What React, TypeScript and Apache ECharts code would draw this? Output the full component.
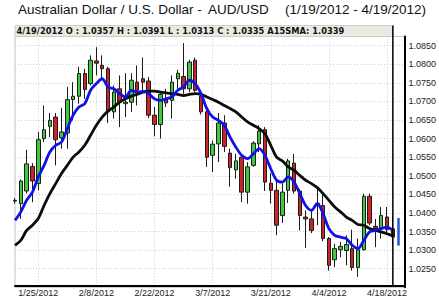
import React, { useEffect, useRef } from 'react';
import * as echarts from 'echarts';

const dates = [
  '1/19/2012', '1/20/2012', '1/23/2012', '1/24/2012', '1/25/2012', '1/26/2012', '1/27/2012', '1/30/2012', '1/31/2012',
  '2/1/2012', '2/2/2012', '2/3/2012', '2/6/2012', '2/7/2012', '2/8/2012', '2/9/2012', '2/10/2012', '2/13/2012',
  '2/14/2012', '2/15/2012', '2/16/2012', '2/17/2012', '2/20/2012', '2/21/2012', '2/22/2012', '2/23/2012', '2/24/2012',
  '2/27/2012', '2/28/2012', '2/29/2012', '3/1/2012', '3/2/2012', '3/5/2012', '3/6/2012', '3/7/2012', '3/8/2012',
  '3/9/2012', '3/12/2012', '3/13/2012', '3/14/2012', '3/15/2012', '3/16/2012', '3/19/2012', '3/20/2012', '3/21/2012',
  '3/22/2012', '3/23/2012', '3/26/2012', '3/27/2012', '3/28/2012', '3/29/2012', '3/30/2012', '4/2/2012', '4/3/2012',
  '4/4/2012', '4/5/2012', '4/6/2012', '4/9/2012', '4/10/2012', '4/11/2012', '4/12/2012', '4/13/2012', '4/16/2012',
  '4/17/2012', '4/18/2012', '4/19/2012', '4/20/2012', '4/23/2012',
];

const opens = [
  1.0432, 1.0425, 1.0459, 1.0525, 1.0479, 1.0600, 1.0633, 1.0658, 1.0602, 1.0615, 1.0705, 1.0714,
  1.0775, 1.0748, 1.0809, 1.0797, 1.0788, 1.0672, 1.0734, 1.0694, 1.0698, 1.0752, 1.0761, 1.0755,
  1.0663, 1.0638, 1.0705, 1.0703, 1.0761, 1.0767, 1.0734, 1.0811, 1.0714, 1.0672, 1.0555, 1.0586,
  1.0642, 1.0561, 1.0516, 1.0550, 1.0456, 1.0528, 1.0586, 1.0624, 1.0480, 1.0461, 1.0393, 1.0461,
  1.0534, 1.0459, 1.0389, 1.0384, 1.0420, 1.0420, 1.0331, 1.0274, 1.0301, 1.0299, 1.0304, 1.0253,
  1.0301, 1.0445, 1.0364, 1.0360, 1.0389, 1.0357,
];
const highs = [
  1.0440, 1.0490, 1.0570, 1.0534, 1.0618, 1.0689, 1.0669, 1.0669, 1.0683, 1.0739, 1.0752, 1.0793,
  1.0788, 1.0824, 1.0846, 1.0824, 1.0793, 1.0743, 1.0770, 1.0776, 1.0776, 1.0797, 1.0818, 1.0766,
  1.0685, 1.0725, 1.0734, 1.0770, 1.0785, 1.0857, 1.0812, 1.0818, 1.0721, 1.0676, 1.0595, 1.0669,
  1.0663, 1.0573, 1.0559, 1.0555, 1.0537, 1.0593, 1.0636, 1.0631, 1.0507, 1.0492, 1.0479, 1.0546,
  1.0559, 1.0464, 1.0407, 1.0411, 1.0471, 1.0452, 1.0335, 1.0317, 1.0322, 1.0340, 1.0355, 1.0331,
  1.0452, 1.0452, 1.0384, 1.0416, 1.0416, 1.0391,
];
const lows = [
  1.0425, 1.0384, 1.0452, 1.0429, 1.0461, 1.0591, 1.0604, 1.0528, 1.0573, 1.0573, 1.0649, 1.0694,
  1.0707, 1.0743, 1.0770, 1.0757, 1.0642, 1.0654, 1.0631, 1.0658, 1.0672, 1.0689, 1.0725, 1.0655,
  1.0606, 1.0600, 1.0685, 1.0654, 1.0734, 1.0721, 1.0725, 1.0725, 1.0665, 1.0524, 1.0510, 1.0537,
  1.0564, 1.0471, 1.0492, 1.0429, 1.0425, 1.0524, 1.0564, 1.0459, 1.0425, 1.0340, 1.0373, 1.0427,
  1.0452, 1.0353, 1.0306, 1.0346, 1.0367, 1.0324, 1.0245, 1.0254, 1.0281, 1.0259, 1.0245, 1.0228,
  1.0299, 1.0367, 1.0308, 1.0331, 1.0346, 1.0313,
];
const closes = [
  1.0434, 1.0486, 1.0532, 1.0486, 1.0597, 1.0624, 1.0649, 1.0597, 1.0618, 1.0705, 1.0714, 1.0775,
  1.0732, 1.0811, 1.0803, 1.0788, 1.0672, 1.0725, 1.0698, 1.0698, 1.0757, 1.0730, 1.0752, 1.0663,
  1.0638, 1.0719, 1.0696, 1.0752, 1.0776, 1.0734, 1.0806, 1.0730, 1.0672, 1.0550, 1.0585, 1.0642,
  1.0579, 1.0522, 1.0540, 1.0456, 1.0524, 1.0588, 1.0620, 1.0483, 1.0461, 1.0367, 1.0456, 1.0540,
  1.0459, 1.0393, 1.0384, 1.0353, 1.0426, 1.0331, 1.0259, 1.0304, 1.0310, 1.0315, 1.0253, 1.0301,
  1.0445, 1.0373, 1.0358, 1.0393, 1.0355, 1.0335,
];

// fast moving average (blue)
const fastSMA = [
  1.0380, 1.0403, 1.0434, 1.0456, 1.0497, 1.0528, 1.0564, 1.0582, 1.0591, 1.0627, 1.0663, 1.0685,
  1.0694, 1.0730, 1.0748, 1.0761, 1.0739, 1.0734, 1.0721, 1.0712, 1.0730, 1.0725, 1.0727, 1.0721,
  1.0707, 1.0703, 1.0707, 1.0712, 1.0730, 1.0739, 1.0757, 1.0748, 1.0721, 1.0681, 1.0658, 1.0649,
  1.0636, 1.0604, 1.0577, 1.0555, 1.0546, 1.0559, 1.0573, 1.0555, 1.0519, 1.0488, 1.0483, 1.0497,
  1.0483, 1.0452, 1.0420, 1.0407, 1.0425, 1.0398, 1.0358, 1.0340, 1.0335, 1.0331, 1.0313, 1.0304,
  1.0326, 1.0349, 1.0353, 1.0358, 1.0362, 1.0353,
];
// A15SMA (black)
const sma15 = [
  1.0313, 1.0326, 1.0353, 1.0367, 1.0385, 1.0420, 1.0452, 1.0479, 1.0506, 1.0528, 1.0550, 1.0564,
  1.0582, 1.0609, 1.0636, 1.0658, 1.0674, 1.0685, 1.0698, 1.0707, 1.0714, 1.0719, 1.0725, 1.0728,
  1.0728, 1.0725, 1.0723, 1.0721, 1.0719, 1.0716, 1.0719, 1.0721, 1.0719, 1.0712, 1.0705, 1.0698,
  1.0689, 1.0681, 1.0672, 1.0658, 1.0645, 1.0636, 1.0627, 1.0613, 1.0582, 1.0550, 1.0540, 1.0524,
  1.0515, 1.0501, 1.0488, 1.0479, 1.0468, 1.0452, 1.0434, 1.0416, 1.0403, 1.0389, 1.0380, 1.0369,
  1.0367, 1.0358, 1.0353, 1.0349, 1.0344, 1.0339,
];

// last-day range marker (blue bar beside the last candle)
const rangeIndex = 66;
const rangeLow = 1.0313;
const rangeHigh = 1.0386;

const yTickMin = 1.025;
const yTickMax = 1.085;

export default function App() {
  const ref = useRef<HTMLDivElement>(null);

  useEffect(() => {
    const chart = echarts.init(ref.current!, null, { renderer: 'svg' });
    const candleData = opens.map((o, i) => [o, closes[i], lows[i], highs[i]]);
    const rangeData = dates.map((_, i) =>
      i === rangeIndex ? [rangeLow, rangeHigh, rangeLow, rangeHigh] : '-'
    );
    const showIdx = (i: number) => i >= 4 && i <= 64 && (i - 4) % 10 === 0;
    const last = opens.length - 1;

    chart.setOption({
      animation: false,
      backgroundColor: '#ffffff',
      grid: {
        left: 15, right: 34, top: 36.4, bottom: 12.7,
        show: true, borderColor: '#c4c4c4', borderWidth: 1, backgroundColor: '#ffffff',
      },
      xAxis: {
        type: 'category',
        data: dates,
        boundaryGap: false,
        offset: -2,
        axisLine: { lineStyle: { color: '#000', width: 2 } },
        axisTick: { show: false },
        axisLabel: {
          interval: (i: number) => showIdx(i),
          fontSize: 9, color: '#222', margin: 3, fontFamily: 'Liberation Sans',
        },
        splitLine: {
          show: true,
          interval: (i: number) => showIdx(i),
          lineStyle: { color: '#cdcdcd', width: 1, type: [1, 2] },
        },
      },
      yAxis: {
        type: 'value',
        position: 'right',
        min: 1.02,
        max: 1.0875,
        interval: 0.005,
        axisLine: { show: true, lineStyle: { color: '#000', width: 2 } },
        axisTick: { show: false },
        axisLabel: {
          formatter: (v: number) => (v > yTickMin - 1e-6 && v < yTickMax + 1e-6 ? v.toFixed(4) : ''),
          fontSize: 9, color: '#222', margin: 4, fontFamily: 'Liberation Sans',
        },
        splitLine: {
          show: true,
          showMinLine: false,
          showMaxLine: false,
          lineStyle: { color: '#cdcdcd', width: 1, type: [1, 2] },
        },
      },
      series: [
        {
          type: 'candlestick',
          data: candleData,
          barWidth: 4,
          itemStyle: {
            color: '#3bcb3b', color0: '#cc2424',
            borderColor: '#1c1c1c', borderColor0: '#1c1c1c', borderWidth: 1,
          },
        },
        {
          type: 'candlestick',
          data: rangeData,
          barWidth: 3,
          itemStyle: {
            color: '#2b4fd6', color0: '#2b4fd6',
            borderColor: '#2b4fd6', borderColor0: '#2b4fd6', borderWidth: 0.5,
          },
        },
        {
          type: 'line',
          data: sma15,
          showSymbol: false,
          smooth: 0.3,
          lineStyle: { color: '#0c0c0c', width: 2.8 },
        },
        {
          type: 'line',
          data: fastSMA,
          showSymbol: false,
          smooth: 0.3,
          lineStyle: { color: '#1010e8', width: 2.8 },
        },
      ],
    });

    const xLast = chart.convertToPixel({ xAxisIndex: 0 }, dates[last]) as number;
    const info =
      `${dates[last]} O : ${opens[last].toFixed(4)} H : ${highs[last].toFixed(4)} ` +
      `L : ${lows[last].toFixed(4)} C : ${closes[last].toFixed(4)} A15SMA: ${sma15[last].toFixed(4)}`;

    chart.setOption({
      graphic: [
        {
          type: 'text', x: 18, y: 9,
          style: { text: 'Australian Dollar / U.S. Dollar -', font: '13.5px "Liberation Sans"', fill: '#111', verticalAlign: 'middle' },
        },
        {
          type: 'text', x: 208, y: 9,
          style: { text: 'AUD/USD', font: '13.5px "Liberation Sans"', fill: '#111', verticalAlign: 'middle' },
        },
        {
          type: 'text', x: 285, y: 9,
          style: { text: '(1/19/2012 - 4/19/2012)', font: '13.5px "Liberation Sans"', fill: '#111', verticalAlign: 'middle' },
        },
        {
          type: 'rect',
          shape: { x: 15, y: 25.5, width: xLast - 15, height: 11 },
          style: { fill: '#ebeae2', stroke: '#cfcdc4', lineWidth: 1 },
        },
        {
          type: 'text', x: 16.5, y: 31,
          style: { text: info, font: 'bold 8.3px "DejaVu Sans"', fill: '#111', verticalAlign: 'middle' },
        },
        {
          type: 'line',
          shape: { x1: xLast, y1: 25.5, x2: xLast, y2: 285 },
          style: { stroke: '#000', lineWidth: 1.5 },
          z: 100,
        },
      ],
    });

    return () => chart.dispose();
  }, []);

  return (
    <div
      ref={ref}
      style={{ position: 'absolute', left: 0, top: 0, width: 439, height: 300 }}
    />
  );
}
